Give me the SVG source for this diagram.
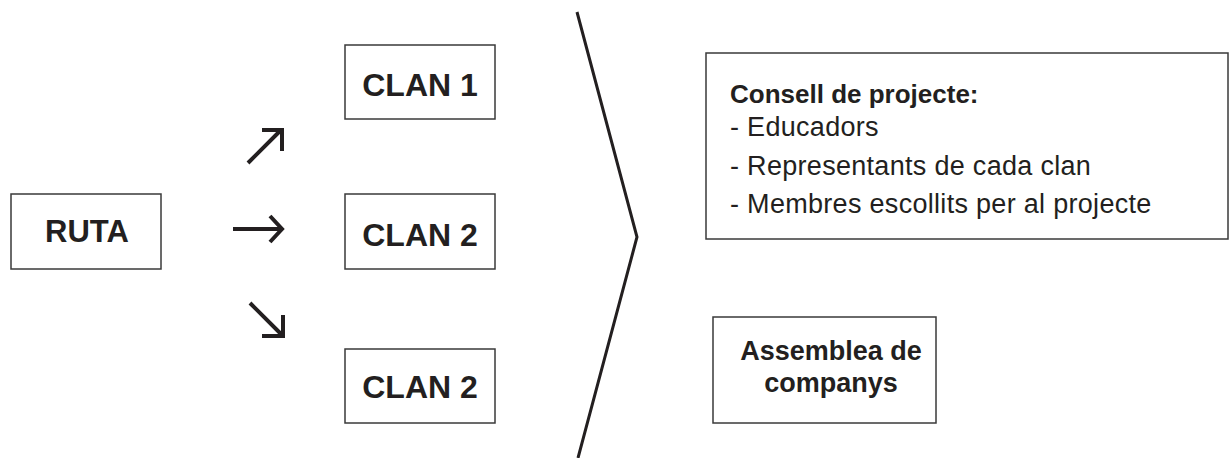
<svg xmlns="http://www.w3.org/2000/svg" width="1229" height="458" viewBox="0 0 1229 458">
<style>
.box{fill:#fff;stroke:#3a3a3a;stroke-width:1.5}
.t{font-family:"Liberation Sans",Arial,sans-serif;fill:#231f20}
.b{font-weight:bold}
.big{font-size:32px;font-weight:bold;text-anchor:middle}
.ln{fill:none;stroke:#231f20;stroke-width:3}
.ar{fill:none;stroke:#231f20;stroke-width:4}
</style>
<rect width="1229" height="458" fill="#fff"/>
<g id="ruta">
<rect class="box" x="11" y="194" width="150" height="75"/>
<text class="t big" x="87" y="242" style="font-size:31px">RUTA</text>
</g>
<g id="clan1">
<rect class="box" x="345" y="45" width="150" height="74"/>
<text class="t big" x="420" y="96">CLAN 1</text>
</g>
<g id="clan2a">
<rect class="box" x="345" y="194" width="150" height="75"/>
<text class="t big" x="420" y="246">CLAN 2</text>
</g>
<g id="clan2b">
<rect class="box" x="345" y="349" width="150" height="74"/>
<text class="t big" x="420" y="398">CLAN 2</text>
</g>
<g id="consell">
<rect class="box" x="706" y="53" width="522" height="186"/>
<text class="t b" x="730" y="103" font-size="26">Consell de projecte:</text>
<text class="t" x="730" y="136" font-size="27" letter-spacing="0.3">- Educadors</text>
<text class="t" x="730" y="175" font-size="27" letter-spacing="0.3">- Representants de cada clan</text>
<text class="t" x="730" y="213" font-size="27" letter-spacing="0.3">- Membres escollits per al projecte</text>
</g>
<g id="assemblea">
<rect class="box" x="713" y="317" width="223" height="106"/>
<text class="t b" x="831" y="360" font-size="27" text-anchor="middle">Assemblea de</text>
<text class="t b" x="831" y="392" font-size="27" text-anchor="middle">companys</text>
</g>
<g id="connectors">
<path class="ar" d="M248,163 L281,130 M262,130 H282 V151"/>
<path class="ar" d="M233,229 H280 M270,216 L282,229 L270,242"/>
<path class="ar" d="M250,303 L282,335 M262,336 H283 V315"/>
<path class="ln" d="M577,12 L637,237 L578,458"/>
</g>
</svg>
